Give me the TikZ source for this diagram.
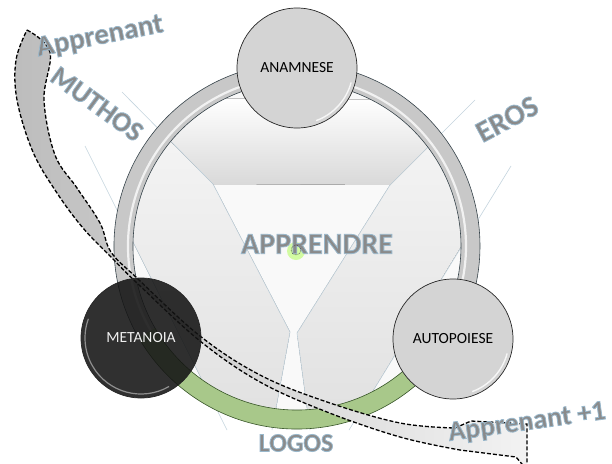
\documentclass[tikz,border=0pt]{standalone}
\usepackage{fontspec}
\setmainfont{Carlito}
\usetikzlibrary{calc}
\definecolor{ringgray}{RGB}{200,200,200}
\definecolor{ringedge}{RGB}{55,68,75}
\definecolor{greenfill}{RGB}{168,200,138}
\definecolor{greenedge}{RGB}{55,85,40}
\definecolor{nodegray}{RGB}{212,212,212}
\definecolor{waFill}{RGB}{138,138,138}
\definecolor{logoline}{RGB}{196,212,222}
\newcommand{\outlined}[1]{\special{pdf:literal direct q 2 Tr 0.8 w 0.6 0.72 0.8 RG}#1\special{pdf:literal direct Q}}
\tikzset{
  stage/.style={circle, minimum size=120pt, inner sep=0pt, draw=black!85, line width=0.7pt, font=\fontsize{15.5}{17}\selectfont},
  wabase/.style={inner sep=0pt, anchor=center, text=waFill},
  arrowband/.style={draw=black, line width=1.3pt, dash pattern=on 4pt off 2pt, left color=gray!52, right color=gray!10},
  armfill/.style={top color=gray!7, bottom color=gray!24},
  logoedge/.style={draw=logoline, line width=0.6pt}
}
\begin{document}
\begin{tikzpicture}[x=1pt,y=-1pt]
\useasboundingbox (0,0) rectangle (612,463);
\fill[white] (0,0) rectangle (612,463);
\coordinate (C) at (297,246);

% interior of the ring
\fill[gray!5] (C) circle[radius=167];
\begin{scope}
  \clip (C) circle[radius=167];
  \fill[armfill] (80,136) -- (127,98) -- (213,184) -- (290,332) -- (272,430) -- (227,430) -- cycle;
  \fill[armfill] (520,150) -- (475,100) -- (390,185) -- (297,333) -- (310,430) -- (349,430) -- cycle;
  \fill[top color=white, bottom color=gray!30] (127,98) -- (475,100) -- (390,185) -- (213,184) -- cycle;
\end{scope}
% faint logo edges
\draw[logoedge] (85,146) -- (227,430);
\draw[logoedge] (122,92) -- (213,184);
\draw[logoedge] (475,100) -- (390,185);
\draw[logoedge] (511,166) -- (349,430);
\draw[logoedge] (213,184) -- (290,332) -- (272,430);
\draw[logoedge] (390,185) -- (297,333) -- (310,430);

% ring: gray part
\fill[ringgray] ($(C)+(150:183)$) arc[start angle=150,end angle=390,radius=183]
   -- ($(C)+(390:164)$) arc[start angle=390,end angle=150,radius=164] -- cycle;
\draw[white, line width=2.2pt, opacity=0.75] ($(C)+(150:169)$) arc[start angle=150,end angle=390,radius=169];
\draw[ringedge, line width=0.6pt] ($(C)+(150:183)$) arc[start angle=150,end angle=390,radius=183];
\draw[ringedge, line width=0.6pt] ($(C)+(150:164)$) arc[start angle=150,end angle=390,radius=164];
% ring: green part
\fill[greenfill] ($(C)+(30:183)$) arc[start angle=30,end angle=150,radius=183]
   -- ($(C)+(150:164)$) arc[start angle=150,end angle=30,radius=164] -- cycle;
\draw[greenedge, line width=0.6pt] ($(C)+(30:183)$) arc[start angle=30,end angle=150,radius=183];
\draw[greenedge, line width=0.6pt] ($(C)+(30:164)$) arc[start angle=30,end angle=150,radius=164];

% centre label with glow
\fill[green!45!yellow, opacity=0.35] (296,251) circle[radius=9];
\node[wabase, font=\fontsize{30}{30}\selectfont\bfseries] (apprendre) at (317,244) {\outlined{APPRENDRE}};
\draw[black!70, line width=0.5pt, dash pattern=on 0.8pt off 0.8pt] (296,250) circle[radius=5];

% the learner arrow
\path[arrowband] plot[smooth, tension=0.6] coordinates {(27,30) (50,52) (44,100) (55,155) (77,188) (100,223) (111,252) (138,279) (200,336) (260,375) (327,402) (400,423) (455,428)}
  -- (471,421) -- (527,424) -- (527,470) -- (516,457)
  -- plot[smooth, tension=0.6] coordinates {(460,450) (400,437) (327,412) (260,382) (200,341) (138,284) (112,258) (83,228) (57,193) (33,152) (17,100) (16,60) (27,30)} -- cycle;

% stage circles
\node[stage, fill=nodegray] (anam) at (297,68) {ANAMNESE};
\draw[white, line width=1.4pt, opacity=0.8] ($(anam.center)+(15:56)$) arc[start angle=15,end angle=70,radius=56];
\node[stage, fill=nodegray] (auto) at (453,339) {AUTOPOIESE};
\draw[white, line width=1.4pt, opacity=0.8] ($(auto.center)+(15:56)$) arc[start angle=15,end angle=70,radius=56];
\node[stage, fill=black!92, fill opacity=0.88, text opacity=1, text=gray!12] (meta) at (141,338) {METANOIA};
\draw[gray!70, line width=1.2pt, opacity=0.8] ($(meta.center)+(60:56)$) arc[start angle=60,end angle=200,radius=56];

% word-art labels
\node[wabase, rotate=11, font=\fontsize{29}{29}\selectfont\bfseries] (appr) at (100,37) {\outlined{Apprenant}};
\node[wabase, rotate=-36, font=\fontsize{28}{28}\selectfont\bfseries] (muthos) at (97,104) {\outlined{MUTHOS}};
\node[wabase, rotate=28, font=\fontsize{30}{30}\selectfont\bfseries] (eros) at (507,119) {\outlined{EROS}};
\node[wabase, font=\fontsize{26}{26}\selectfont\bfseries] (logos) at (296,443) {\outlined{LOGOS}};
\node[wabase, rotate=8, font=\fontsize{28}{28}\selectfont\bfseries] (apprplus) at (527,423) {\outlined{Apprenant +1}};
\end{tikzpicture}
\end{document}
